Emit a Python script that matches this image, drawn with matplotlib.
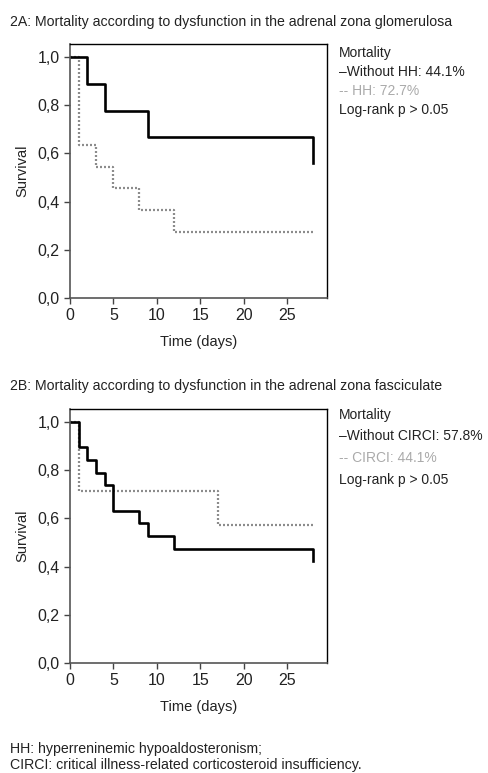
import matplotlib.pyplot as plt

plt.rcParams['font.family'] = ['Liberation Sans Narrow', 'Liberation Sans', 'DejaVu Sans']

# panel A: adrenal zona glomerulosa
a_t_without = [0, 2, 4, 9, 28]
a_s_without = [1.0, 0.889, 0.778, 0.667, 0.56]
a_t_hh = [0, 1, 3, 5, 8, 12, 28]
a_s_hh = [1.0, 0.636, 0.545, 0.455, 0.364, 0.273, 0.273]

# panel B: adrenal zona fasciculate
b_t_without = [0, 1, 2, 3, 4, 5, 8, 9, 12, 28]
b_s_without = [1.0, 0.895, 0.842, 0.789, 0.737, 0.632, 0.579, 0.526, 0.474, 0.422]
b_t_circi = [0, 1, 17, 28]
b_s_circi = [1.0, 0.714, 0.571, 0.571]

xticks = [0, 5, 10, 15, 20, 25]
yticks = [0.0, 0.2, 0.4, 0.6, 0.8, 1.0]
ytick_labels = ['0,0', '0,2', '0,4', '0,6', '0,8', '1,0']

W, H = 489, 773
fig = plt.figure(figsize=(W / 100, H / 100), dpi=100)
txt = '#222222'
grey = '#8c8c8c'


def panel(bottom_px, t1, s1, t2, s2):
    ax = fig.add_axes([70 / W, 1 - bottom_px / H, 257 / W, 254 / H])
    ax.step(t2, s2, where='post', color=grey, lw=1.6, ls=(0, (0.9, 0.9)))
    ax.step(t1, s1, where='post', color='black', lw=1.9)
    ax.set_xlim(0, 29.6)
    ax.set_ylim(0, 1.054)
    ax.set_xticks(xticks)
    ax.set_yticks(yticks)
    ax.set_yticklabels(ytick_labels)
    ax.tick_params(colors='#444444', labelcolor=txt, labelsize=11.5, length=4, width=1, direction='out')
    for s in ['left', 'bottom']:
        ax.spines[s].set_color('#555555')
        ax.spines[s].set_linewidth(1.2)
    for s in ['top', 'right']:
        ax.spines[s].set_color('black')
        ax.spines[s].set_linewidth(1.0)
    ax.set_xlabel('Time (days)', fontsize=10.5, color=txt, labelpad=8)
    ax.set_ylabel('Survival', fontsize=10.5, color=txt, labelpad=6)
    return ax


panel(298, a_t_without, a_s_without, a_t_hh, a_s_hh)
panel(663, b_t_without, b_s_without, b_t_circi, b_s_circi)

fs = 10.2
fig.text(10 / W, 1 - 22 / H, '2A: Mortality according to dysfunction in the adrenal zona glomerulosa',
         fontsize=fs, color=txt, va='center')
fig.text(10 / W, 1 - 386 / H, '2B: Mortality according to dysfunction in the adrenal zona fasciculate',
         fontsize=fs, color=txt, va='center')

lfs = 10
leg_a = [('Mortality', txt), ('\u2013Without HH: 44.1%', txt), ('-- HH: 72.7%', '#aaaaaa'),
         ('Log-rank p > 0.05', txt)]
leg_b = [('Mortality', txt), ('\u2013Without CIRCI: 57.8%', txt), ('-- CIRCI: 44.1%', '#aaaaaa'),
         ('Log-rank p > 0.05', txt)]
for i, (s, c) in enumerate(leg_a):
    fig.text(339 / W, 1 - (53 + 19 * i) / H, s, fontsize=lfs, color=c, va='center')
for i, (s, c) in enumerate(leg_b):
    fig.text(339 / W, 1 - (415 + 21.5 * i) / H, s, fontsize=lfs, color=c, va='center')

fig.text(10 / W, 1 - 749 / H, 'HH: hyperreninemic hypoaldosteronism;', fontsize=fs, color=txt, va='center')
fig.text(10 / W, 1 - 765 / H, 'CIRCI: critical illness-related corticosteroid insufficiency.',
         fontsize=fs, color=txt, va='center')

fig.savefig('out.png', dpi=100)
